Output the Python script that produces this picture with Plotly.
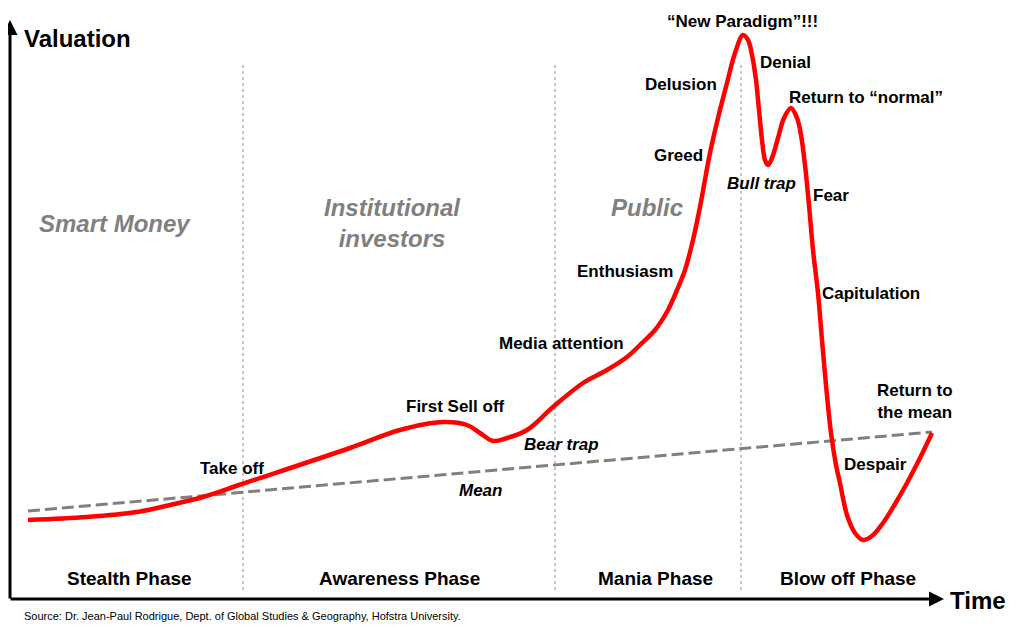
import plotly.graph_objects as go

curve_t = [28, 87, 137, 170, 203, 242, 350, 400, 443, 467, 480, 493, 507, 527, 553, 583,
           607, 627, 640, 655, 668, 677, 685, 693, 700, 710, 718, 727, 735, 743, 748, 752, 756,
           759, 762, 765, 768, 772, 778, 784, 791, 797, 801, 805, 809, 813, 818, 822, 826, 831,
           836, 840, 847, 855, 863, 872, 883, 895, 907, 920, 932]
curve_v = [520, 517, 512, 505, 497, 484, 448, 430, 422, 425, 433, 441, 438, 430, 407, 383,
           370, 357, 345, 330, 310, 290, 270, 240, 207, 153, 118, 83, 53, 35, 40, 55, 80,
           110, 140, 160, 165, 158, 138, 118, 108, 118, 135, 165, 205, 250, 293, 340, 385, 433,
           465, 483, 515, 533, 540, 536, 523, 504, 483, 458, 433]

mean_t = [28, 932]
mean_v = [511, 432]

phase_bounds = [243, 555, 741]
phase_names = ["Stealth Phase", "Awareness Phase", "Mania Phase", "Blow off Phase"]
phase_centers = [129, 399, 655, 848]

group_names = ["Smart Money", "Institutional<br>investors", "Public"]
group_pos = [(115, 223), (392, 223), (647, 207)]

labels = [
    ("Take off", 232, 468, False),
    ("First Sell off", 455, 406, False),
    ("Bear trap", 561, 444, True),
    ("Mean", 480, 490, True),
    ("Media attention", 561, 343, False),
    ("Enthusiasm", 625, 271, False),
    ("Greed", 678, 155, False),
    ("Delusion", 681, 84, False),
    ("\u201cNew Paradigm\u201d!!!", 742, 21, False),
    ("Denial", 785, 62, False),
    ("Bull trap", 761, 183, True),
    ("Return to \u201cnormal\u201d", 866, 97, False),
    ("Fear", 831, 195, False),
    ("Capitulation", 871, 293, False),
    ("Return to<br>the mean", 915, 401, False),
    ("Despair", 875, 464, False),
]

FONT = "Liberation Sans, Arial, sans-serif"
PAGE_OFFSET = 8  # browser default body margin

fig = go.Figure()

# phase separators
for b in phase_bounds:
    fig.add_trace(go.Scatter(x=[b, b], y=[65, 592], mode="lines",
                             line=dict(color="#c8c8c8", width=2, dash="dot"),
                             hoverinfo="skip", showlegend=False))

# mean line
fig.add_trace(go.Scatter(x=mean_t, y=mean_v, mode="lines",
                         line=dict(color="#808080", width=3, dash="12px,5px"),
                         hoverinfo="skip", showlegend=False))

# bubble curve
fig.add_trace(go.Scatter(x=curve_t, y=curve_v, mode="lines",
                         line=dict(color="#ff0000", width=4.5, shape="spline", smoothing=1.0),
                         hoverinfo="skip", showlegend=False))

ann = []
# axes arrows
ann.append(dict(x=10, y=20, ax=10, ay=600, xref="x", yref="y", axref="x", ayref="y",
                showarrow=True, arrowhead=2, arrowsize=1, arrowwidth=3, arrowcolor="black", text=""))
ann.append(dict(x=944, y=599, ax=9, ay=599, xref="x", yref="y", axref="x", ayref="y",
                showarrow=True, arrowhead=2, arrowsize=1, arrowwidth=3, arrowcolor="black", text=""))

ann.append(dict(x=22, y=38, xref="x", yref="y", text="<b>Valuation</b>", showarrow=False,
                xanchor="left", yanchor="middle", font=dict(family=FONT, size=24, color="black")))
ann.append(dict(x=978, y=600, xref="x", yref="y", text="<b>Time</b>", showarrow=False,
                xanchor="center", yanchor="middle", font=dict(family=FONT, size=24, color="black")))

for name, cx in zip(phase_names, phase_centers):
    ann.append(dict(x=cx, y=578, xref="x", yref="y", text="<b>" + name + "</b>", showarrow=False,
                    xanchor="center", yanchor="middle", font=dict(family=FONT, size=19, color="black")))

for name, (gx, gy) in zip(group_names, group_pos):
    ann.append(dict(x=gx, y=gy, xref="x", yref="y", text="<b><i>" + name + "</i></b>", showarrow=False,
                    xanchor="center", yanchor="middle",
                    font=dict(family=FONT, size=24, color="#808080")))

for text, lx, ly, ital in labels:
    t = "<b><i>" + text + "</i></b>" if ital else "<b>" + text + "</b>"
    ann.append(dict(x=lx, y=ly, xref="x", yref="y", text=t, showarrow=False,
                    xanchor="center", yanchor="middle",
                    font=dict(family=FONT, size=17, color="black")))

ann.append(dict(x=22, y=616, xref="x", yref="y",
                text="Source: Dr. Jean-Paul Rodrigue, Dept. of Global Studies &amp; Geography, Hofstra University.",
                showarrow=False, xanchor="left", yanchor="middle",
                font=dict(family=FONT, size=11, color="black")))

fig.update_layout(
    width=1024, height=635,
    margin=dict(l=0, r=0, t=0, b=0),
    paper_bgcolor="white", plot_bgcolor="white",
    xaxis=dict(range=[PAGE_OFFSET, 1024 + PAGE_OFFSET], visible=False, fixedrange=True),
    yaxis=dict(range=[635 + PAGE_OFFSET, PAGE_OFFSET], visible=False, fixedrange=True),
    annotations=ann,
    showlegend=False,
)

fig.write_html("out.html", config={"displayModeBar": False})
